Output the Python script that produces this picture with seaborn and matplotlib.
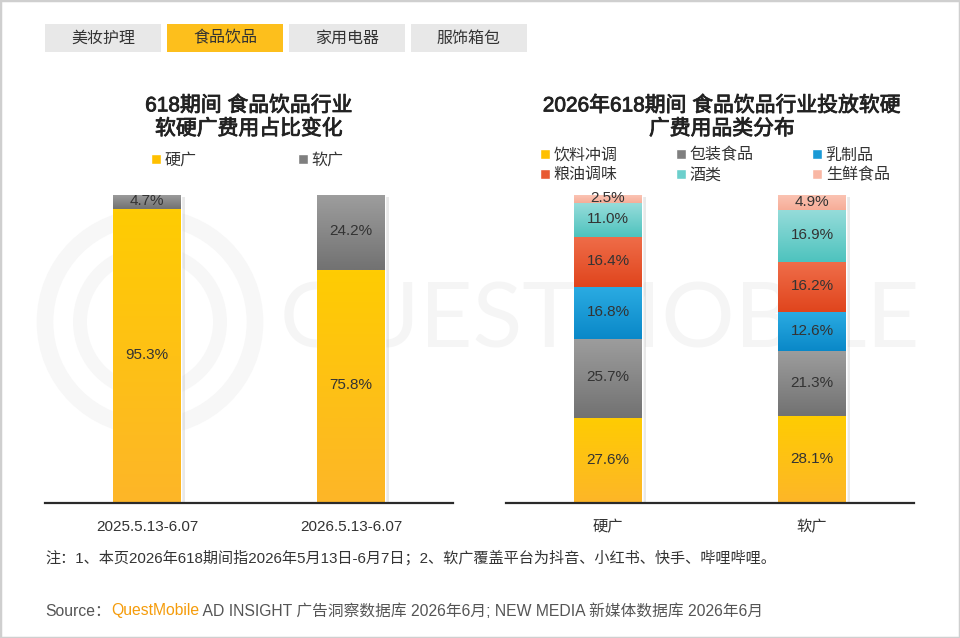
import numpy as np
import pandas as pd
import seaborn as sns
import matplotlib.pyplot as plt
import matplotlib.patheffects as pe
from matplotlib.patches import Rectangle, Patch, Circle
from matplotlib.colors import LinearSegmentedColormap

# ---- data ----
tabs = ['美妆护理', '食品饮品', '家用电器', '服饰箱包']
periods = ['2025.5.13-6.07', '2026.5.13-6.07']
hard_share = [95.3, 75.8]
soft_share = [4.7, 24.2]

ad_types = ['硬广', '软广']
categories = ['饮料冲调', '包装食品', '乳制品', '粮油调味', '酒类', '生鲜食品']
hard_mix = [27.6, 25.7, 16.8, 16.4, 11.0, 2.5]
soft_mix = [28.1, 21.3, 12.6, 16.2, 16.9, 4.9]

# base colour, gradient (bottom, top)
yellow = ('#ffc000', ('#fdb628', '#ffcc02'))
grey = ('#7f7f7f', ('#727272', '#9d9d9d'))
cat_colors = [
    yellow,
    grey,
    ('#1a9ad6', ('#0a88c8', '#2aabe2')),
    ('#e85a32', ('#e0451d', '#ef6d49')),
    ('#6ccfcc', ('#4ec3be', '#96dcda')),
    ('#f9b7a4', ('#f6ad98', '#fbc4b4')),
]

sns.set_theme(style='white')
plt.rcParams['font.family'] = ['Liberation Sans', 'Noto Sans CJK SC', 'DejaVu Sans']
TXT = '#333333'

fig = plt.figure(figsize=(9.6, 6.38), dpi=100)
W, H = 960, 638


def fx(px):
    return px / W


def fy(py):
    return 1 - py / H


# frame
fig.patches.append(Rectangle((0, 0), 1, 1, transform=fig.transFigure, fill=False,
                             ec='#cfcfcf', lw=2.5, zorder=10))

# watermark
fig.text(fx(600), fy(322), 'QUESTMOBILE', fontsize=66, color='#f5f5f5',
         ha='center', va='center', family='Lato', zorder=-5)
for r, lw in [(105, 12), (70, 10)]:
    fig.patches.append(Circle((150, H - 322), r, transform=None, fill=False,
                              ec='#f7f7f7', lw=lw, zorder=-5))

# tabs
tab_x = [45, 167, 289, 411]
for name, x0 in zip(tabs, tab_x):
    active = name == '食品饮品'
    fig.patches.append(Rectangle((fx(x0), fy(52)), fx(116), 28 / H, transform=fig.transFigure,
                                 fc='#fdbf1c' if active else '#e8e8e8', ec='none'))
    fig.text(fx(x0 + 58), fy(38), name, fontsize=11.5, color=TXT, ha='center', va='center')


def stacked(ax, labels, layers, colors):
    cum = np.cumsum(np.array(layers), axis=0)
    # tallest first so lower layers sit on top
    for i in range(len(layers) - 1, -1, -1):
        df = pd.DataFrame({'x': labels, 'y': cum[i]})
        sns.barplot(data=df, x='x', y='y', order=labels, color=colors[i][0], saturation=1,
                    width=0.333, ax=ax, zorder=1)
    full = ax.patches[:len(labels)]
    for p in full:
        p.set_path_effects([pe.SimplePatchShadow(offset=(3, -1.5), shadow_rgbFace='#b8b8b8',
                                                 alpha=0.3), pe.Normal()])
    grad = np.linspace(0, 1, 64).reshape(-1, 1)
    for j, p in enumerate(full):
        x0, x1 = p.get_x(), p.get_x() + p.get_width()
        lo = 0
        for i in range(len(layers)):
            hi = cum[i][j]
            cmap = LinearSegmentedColormap.from_list('g', colors[i][1])
            ax.imshow(grad, extent=[x0, x1, lo, hi], aspect='auto', origin='lower', cmap=cmap,
                      zorder=2, interpolation='bilinear')
            ax.text((x0 + x1) / 2, (lo + hi) / 2 + 0.3, f'{layers[i][j]:.1f}%', ha='center',
                    va='center', fontsize=11, color=TXT, zorder=3)
            lo = hi
    ax.set_xlim(-0.5, len(labels) - 0.5)
    ax.set_ylim(0, 100)
    ax.set_facecolor('none')
    ax.set_xlabel('')
    ax.set_ylabel('')
    ax.set_yticks([])
    for s in ['left', 'right', 'top']:
        ax.spines[s].set_visible(False)
    ax.spines['bottom'].set_color('#2a2a2a')
    ax.spines['bottom'].set_linewidth(1.6)
    ax.tick_params(axis='x', length=0, pad=12, labelsize=11, labelcolor=TXT)


leg_kw = dict(frameon=False, fontsize=11.5, handlelength=0.6, handleheight=0.6,
              handletextpad=0.25, borderpad=0, borderaxespad=0, labelcolor=TXT,
              loc='center left', bbox_transform=fig.transFigure)
title_fx = [pe.withStroke(linewidth=0.6, foreground='#222222')]

# left chart
ax1 = fig.add_axes([fx(45), fy(503), fx(408), 308 / H])
stacked(ax1, periods, [hard_share, soft_share], [yellow, grey])
fig.text(fx(249), fy(117), '618期间 食品饮品行业\n软硬广费用占比变化', fontsize=15, color='#222222',
         ha='center', va='center', linespacing=1.2, path_effects=title_fx)
ax1.legend(handles=[Patch(fc=yellow[0]), Patch(fc=grey[0])], labels=ad_types, ncol=2,
           bbox_to_anchor=(fx(151), fy(160)), columnspacing=6.35, **leg_kw)

# right chart
ax2 = fig.add_axes([fx(506), fy(503), fx(408), 308 / H])
mix_layers = [[h, s] for h, s in zip(hard_mix, soft_mix)]
stacked(ax2, ad_types, mix_layers, cat_colors)
fig.text(fx(722), fy(117), '2026年618期间 食品饮品行业投放软硬\n广费用品类分布', fontsize=15,
         color='#222222', ha='center', va='center', linespacing=1.2, path_effects=title_fx)
order = [0, 3, 1, 4, 2, 5]
ax2.legend(handles=[Patch(fc=cat_colors[i][0]) for i in order],
           labels=[categories[i] for i in order], ncol=3,
           bbox_to_anchor=(fx(540), fy(165)), columnspacing=3.66, labelspacing=0.3, **leg_kw)

# notes
fig.text(fx(45), fy(558), '注：1、本页2026年618期间指2026年5月13日-6月7日；2、软广覆盖平台为抖音、小红书、快手、哔哩哔哩。',
         fontsize=10.9, color=TXT, ha='left', va='center')
t = fig.text(fx(45), fy(611), 'Source：', fontsize=11.3, color='#555555', ha='left', va='center')
t2 = ax1.annotate('QuestMobile', xy=(1, 0), xycoords=t, fontsize=11.3, color='#f59c0b',
                  ha='left', va='bottom', annotation_clip=False)
ax1.annotate(' AD INSIGHT 广告洞察数据库 2026年6月; NEW MEDIA 新媒体数据库 2026年6月', xy=(1, 0),
             xycoords=t2, fontsize=11.3, color='#555555', ha='left', va='bottom',
             annotation_clip=False)

fig.savefig('out.png', dpi=100)
